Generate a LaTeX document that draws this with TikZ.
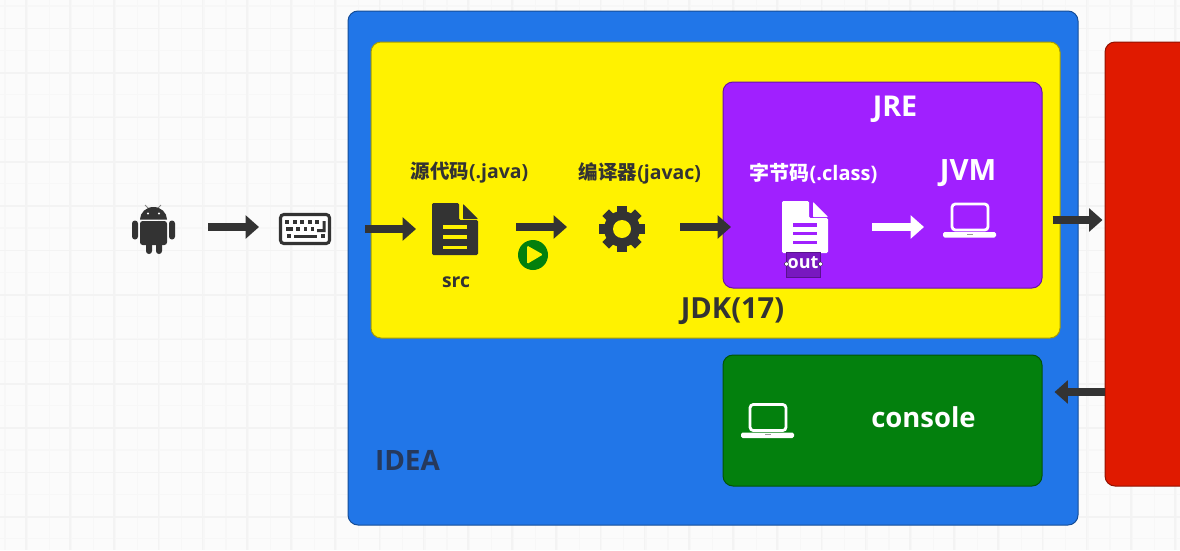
\documentclass[tikz,border=0pt]{standalone}
\usepackage{fontspec}
\setmainfont{Open Sans}
\newfontfamily\cjk{Noto Sans CJK SC}
\usetikzlibrary{arrows.meta}
\definecolor{bgc}{HTML}{FBFBFB}
\definecolor{gridminor}{HTML}{F7F7F7}
\definecolor{gridmajor}{HTML}{F3F3F3}
\definecolor{ideac}{HTML}{2176E8}
\definecolor{yellowc}{HTML}{FFF200}
\definecolor{purplec}{HTML}{A020FF}
\definecolor{greenc}{HTML}{03800D}
\definecolor{redc}{HTML}{E01A00}
\definecolor{ink}{HTML}{333333}
\definecolor{idealabel}{HTML}{26395C}
\tikzset{
  panel/.style={draw=#1!65!black,line width=.75pt,rounded corners=7.5pt,inner sep=0pt,fill=#1},
  slot/.style={inner sep=0pt,outer sep=0pt},
  conn/.style={draw=ink,line width=5.6pt,-{Triangle[length=10pt,width=17pt]}},
  whiteconn/.style={conn,draw=white},
  lab/.style={inner sep=0pt,font=\bfseries},
}
% x y foreground background: doc icon with top-left corner at (x,y)
\newcommand\docicon[6]{%
  \begin{scope}[shift={(#1,#2)}]
    \fill[#3,rounded corners=1pt] (0,0) -- (27,0) -- (27,17) -- (46,17) -- (46,#5) -- (0,#5) -- cycle;
    \fill[#3,rounded corners=.5pt] (31,1) -- (46,16) -- (31,16) -- cycle;
    \fill[#4] (11,22) rectangle (35,25.5);
    \fill[#4] (11,#6-1.7) rectangle (35,#6+1.7);
    \fill[#4] (11,2*#6-23.7-1.7) rectangle (35,2*#6-23.7+1.7);
  \end{scope}}
% x y colour: laptop with screen top-left at (x,y)
\newcommand\laptopicon[3]{%
  \begin{scope}[shift={(#1,#2)}]
    \draw[#3,line width=2.1pt,rounded corners=2.5pt] (1,1) rectangle (37,27);
    \fill[#3,rounded corners=1.2pt] (-8,29) rectangle (45,34.5);
    \fill[#3!60!black] (16,30.5) rectangle (22,31.5);
  \end{scope}}
\begin{document}
\begin{tikzpicture}[x=.75pt,y=-.75pt]
\useasboundingbox (0,0) rectangle (1180,550);
\clip (0,0) rectangle (1180,550);
\fill[bgc] (0,0) rectangle (1180,550);
% grid
\foreach \k in {0,...,53} {\draw[gridminor,line width=1pt] ({5+22.1*\k},0) -- ({5+22.1*\k},550);}
\foreach \k in {0,...,25} {\draw[gridminor,line width=1pt] (0,{6+22.2*\k}) -- (1180,{6+22.2*\k});}
\foreach \k in {0,...,26} {\draw[gridmajor,line width=1.2pt] ({70+44.2*\k-44.2},0) -- ({70+44.2*\k-44.2},550);}
\foreach \k in {0,...,12} {\draw[gridmajor,line width=1.2pt] (0,{73+44.4*\k-44.4}) -- (1180,{73+44.4*\k-44.4});}

% panels
\node[panel=ideac,minimum width=730*.75pt,minimum height=514*.75pt] (idea) at (713,268) {};
\node[panel=yellowc,minimum width=689*.75pt,minimum height=296*.75pt] (jdk) at (715.5,190) {};
\node[panel=purplec,minimum width=319*.75pt,minimum height=206*.75pt] (jre) at (882.5,185) {};
\node[panel=greenc,minimum width=319*.75pt,minimum height=131*.75pt] (consolebox) at (882.5,420.5) {};
\node[panel=redc,minimum width=150*.75pt,minimum height=444*.75pt] (os) at (1180,264) {};

% icon slots
\node[slot,minimum width=44*.75pt,minimum height=50*.75pt] (android) at (153,227) {};
\node[slot,minimum width=52*.75pt,minimum height=32*.75pt] (keyboard) at (305,227) {};
\node[slot,minimum width=46*.75pt,minimum height=52*.75pt] (srcdoc) at (455,229) {};
\node[slot,minimum width=46*.75pt,minimum height=46*.75pt] (gear) at (622,229) {};
\node[slot,minimum width=46*.75pt,minimum height=52*.75pt] (classdoc) at (805,227) {};
\node[slot,minimum width=53*.75pt,minimum height=34*.75pt] (jvmlaptop) at (969.5,220) {};

% android
\begin{scope}
  \draw[ink!60,line width=.6pt] (149,209) -- (145,205) (157,209) -- (161,205);
  \fill[ink] (140,219.5) arc[start angle=180,end angle=360,x radius=13.5,y radius=12.5] -- cycle;
  \fill[white] (148,213.5) circle[radius=1.2] (159,213.5) circle[radius=1.2];
  \fill[ink,rounded corners=2pt] (140,221) -- (167,221) -- (167,245) -- (140,245) -- cycle;
  \fill[ink,rounded corners=2.2pt] (132,220.5) rectangle (138,239.5);
  \fill[ink,rounded corners=2.2pt] (169,220.5) rectangle (175,239.5);
  \fill[ink,rounded corners=2.2pt] (146,240) rectangle (152,254);
  \fill[ink,rounded corners=2.2pt] (156,240) rectangle (162,254);
\end{scope}

% keyboard
\draw[ink,fill=white,line width=2.3pt,rounded corners=2.5pt] (280.5,214.5) rectangle (329.5,243.5);
\foreach \x in {287,295,302,310,317} {\fill[ink] (\x-1.8,220) rectangle (\x+1.8,223.6);}
\fill[ink] (286,227.2) rectangle (293,230.8);
\foreach \x in {298,305.5,312.5} {\fill[ink] (\x-1.8,227.2) rectangle (\x+1.8,230.8);}
\fill[ink] (322.5,221) rectangle (325.5,232) (317,229) rectangle (325.5,232);
\fill[ink] (286.5,234) rectangle (290.5,238);
\fill[ink] (293.5,234.5) rectangle (317,237.5);
\fill[ink] (320.5,234) rectangle (324.5,238);

% documents
\docicon{432}{203}{ink}{yellowc}{52}{34}
\docicon{782}{201}{white}{purplec}{52}{32.5}

% gear
\begin{scope}[shift={(622,229)}]
  \foreach \a in {0,45,90,135} {\draw[ink,line width=7pt] (\a:-23) -- (\a:23);}
  \fill[ink] (0,0) circle[radius=18];
  \fill[yellowc] (0,0) circle[radius=9];
\end{scope}

% play
\node[slot,circle,fill=greenc,minimum size=30*.75pt] (play) at (533,255) {};
\fill[yellowc,rounded corners=1pt] (527,245.5) -- (543,254.5) -- (527,264) -- cycle;

% laptops
\laptopicon{951}{203}{white}
\laptopicon{749}{403.5}{white}
\node[slot,minimum width=53*.75pt,minimum height=34*.75pt] (consolelaptop) at (767,420) {};

% out label with selection box
\node[slot,draw=purplec!55!black,fill=purplec!75!black,line width=.5pt,minimum width=34*.75pt,minimum height=25*.75pt] (outbox) at (803,264.5) {};
\node[lab,text=white,font=\bfseries\fontsize{13.5pt}{15pt}\selectfont] (outlabel) at (803,262.5) {out};
\fill[white,draw=black,line width=.2pt] (786.5,264) circle[radius=2];
\fill[white,draw=black,line width=.2pt] (820.5,264) circle[radius=2];

% connectors
\draw[conn,shorten <=33*.75pt,shorten >=20*.75pt] (android.east) -- (keyboard.west);
\draw[conn,shorten <=34*.75pt,shorten >=16*.75pt] ([yshift=-2*.75pt]keyboard.east) -- (srcdoc.west);
\draw[conn,shorten <=38*.75pt,shorten >=32*.75pt] ([yshift=2*.75pt]srcdoc.east) -- ([yshift=2*.75pt]gear.west);
\draw[conn,shorten <=35*.75pt,shorten >=51*.75pt] ([yshift=2*.75pt]gear.east) -- (classdoc.west);
\draw[whiteconn,shorten <=44*.75pt,shorten >=19*.75pt] (classdoc.east) -- ([yshift=-7*.75pt]jvmlaptop.west);
\draw[conn,shorten <=10*.75pt,shorten >=2*.75pt] ([yshift=-35*.75pt]jre.east) -- ([yshift=44*.75pt]os.west);
\draw[conn,shorten >=12*.75pt] ([yshift=-128*.75pt]os.west) -- ([yshift=28.5*.75pt]consolebox.east);

% labels
\node[lab,text=ink,font=\bfseries\fontsize{14.6pt}{17pt}\selectfont] (srclabel) at (469.5,173) {{\cjk\bfseries 源代码}(.java)};
\node[lab,text=ink,font=\bfseries\fontsize{14.6pt}{17pt}\selectfont] (javaclabel) at (640,173) {{\cjk\bfseries 编译器}(javac)};
\node[lab,text=white,font=\bfseries\fontsize{15pt}{17pt}\selectfont] (classlabel) at (813.5,173) {{\cjk\bfseries 字节码}(.class)};
\node[lab,text=ink,font=\bfseries\fontsize{14.5pt}{17pt}\selectfont] (srcname) at (456,282.5) {src};
\node[lab,text=white,font=\bfseries\fontsize{21.5pt}{25pt}\selectfont] (jrelabel) at (895,109) {JRE};
\node[lab,text=white,font=\bfseries\fontsize{22pt}{26pt}\selectfont] (jvmlabel) at (968,173) {JVM};
\node[lab,text=ink,font=\bfseries\fontsize{21.8pt}{26pt}\selectfont] (jdklabel) at (732.5,311) {JDK(17)};
\node[lab,text=idealabel,font=\bfseries\fontsize{21pt}{25pt}\selectfont] (idealabeltext) at (407.5,460) {IDEA};
\node[lab,text=white,font=\bfseries\fontsize{20.6pt}{24pt}\selectfont] (consolelabel) at (923.5,417) {console};
\end{tikzpicture}
\end{document}
